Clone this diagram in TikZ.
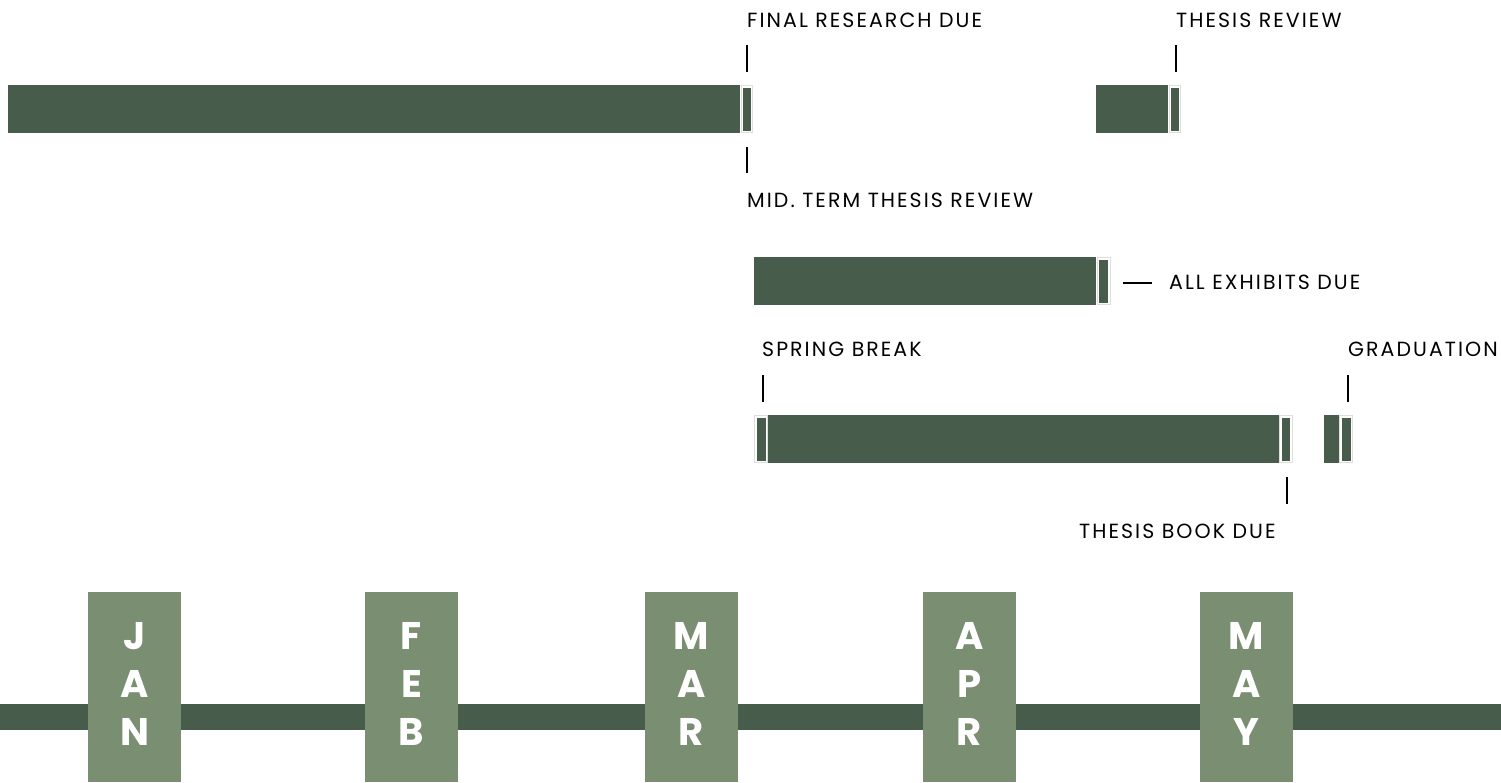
\documentclass[tikz,border=0pt]{standalone}
\usepackage{fontspec}
\setmainfont{Poppins}
\newfontfamily\lblfont[LetterSpace=10]{Poppins}
\usepackage{tikz}
\usetikzlibrary{positioning}

\definecolor{barcol}{RGB}{72,92,75}
\definecolor{monthcol}{RGB}{122,142,114}
\definecolor{rimcol}{RGB}{222,222,222}

\tikzset{
  bar/.style={fill=barcol},
  rim/.style={draw=rimcol, line width=1pt, fill=white},
  tick/.style={line width=2.6pt, black},
  lbl/.style={anchor=base west, inner sep=0pt, font=\lblfont\fontsize{20.5}{24}\selectfont},
  month/.style={fill=monthcol},
  mlbl/.style={inner sep=0pt, align=center, text=white, font=\fontsize{38.5}{48}\selectfont\bfseries}
}

\begin{document}
\begin{tikzpicture}[x=1pt,y=-1pt]
		\useasboundingbox (0,0) rectangle (1501,782);
		
		% tasks
		\fill[bar] (8,85) rectangle (740,133);
		\draw[rim] (741.5,85.5) rectangle (752.5,132.5);
		\fill[bar] (743,88) rectangle (751,131);
		
		\fill[bar] (1096,85) rectangle (1168,133);
		\draw[rim] (1169.5,85.5) rectangle (1180.5,132.5);
		\fill[bar] (1171,88) rectangle (1179,131);
		
		\fill[bar] (754,257) rectangle (1096,305);
		\draw[rim] (1097.5,257.5) rectangle (1110.5,304.5);
		\fill[bar] (1099,260) rectangle (1108,303);
		
		\draw[rim] (754.5,415.5) rectangle (767.5,462.5);
		\fill[bar] (757,418) rectangle (766,461);
		\fill[bar] (768,415) rectangle (1279,463);
		\draw[rim] (1279.5,415.5) rectangle (1292.5,462.5);
		\fill[bar] (1282,418) rectangle (1290,461);
		
		\fill[bar] (1324,415) rectangle (1339,463);
		\draw[rim] (1339.5,415.5) rectangle (1352.5,462.5);
		\fill[bar] (1342,418) rectangle (1351,461);
		
		% milestones
		\node[lbl] (research) at (747,27.5) {FINAL RESEARCH DUE};
		\node[lbl] (midterm) at (747,207.5) {MID. TERM THESIS REVIEW};
		\node[lbl] (review) at (1176,27.5) {THESIS REVIEW};
		\node[lbl] (exhibits) at (1169,289.5) {ALL EXHIBITS DUE};
		\node[lbl] (spring) at (762,356.5) {SPRING BREAK};
		\node[lbl] (graduation) at (1348,356.5) {GRADUATION};
		\node[lbl] (book) at (1079,538.5) {THESIS BOOK DUE};
		
		\coordinate (r1) at (747,45);   \coordinate (r2) at (747,72);
		\coordinate (m1) at (747,147);  \coordinate (m2) at (747,173);
		\coordinate (v1) at (1176,45);  \coordinate (v2) at (1176,72);
		\coordinate (e1) at (1123,283); \coordinate (e2) at (1152,283);
		\coordinate (s1) at (763,375);  \coordinate (s2) at (763,402);
		\coordinate (g1) at (1348,375); \coordinate (g2) at (1348,402);
		\coordinate (b1) at (1287,477); \coordinate (b2) at (1287,504);
		\foreach \a/\b in {r1/r2,m1/m2,v1/v2,e1/e2,s1/s2,g1/g2,b1/b2}
			\draw[tick] (\a) -- (\b);
		
		% time line
		\fill[bar] (0,704) rectangle (1501,730);
		\foreach \x/\m in {88/{J\\A\\N},365/{F\\E\\B},645/{M\\A\\R},923/{A\\P\\R},1200/{M\\A\\Y}}{
			\fill[month] (\x,592) rectangle ++(93,190);
			\node[mlbl, anchor=base] at (\x+46.5,745) {\m};
		}
	\end{tikzpicture}
\end{document}
